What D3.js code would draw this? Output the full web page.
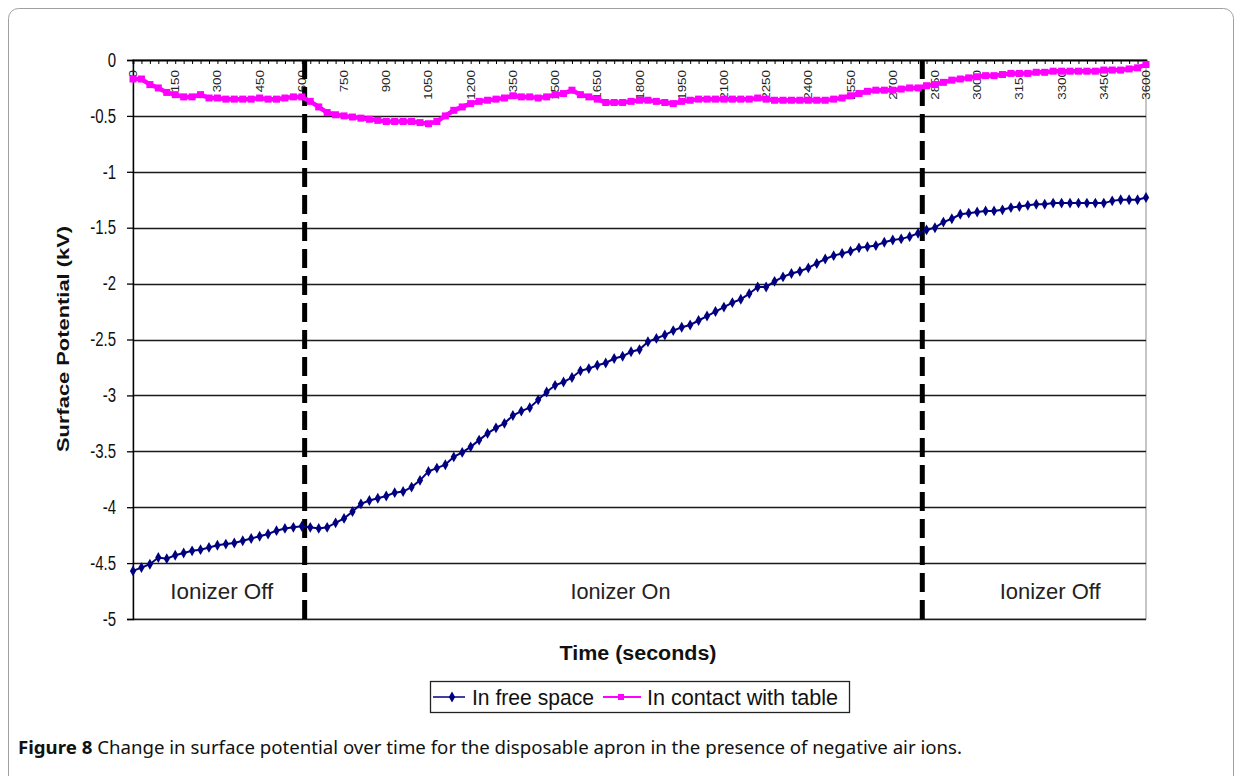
<!DOCTYPE html>
<html>
<head>
<meta charset="utf-8">
<script src="https://cdn.jsdelivr.net/npm/d3@7"></script>
<style>
  html, body { margin: 0; padding: 0; background: #fff; }
  svg { display: block; }
</style>
</head>
<body>
<svg id="chart" width="1242" height="776"></svg>
<script>
// ---------------- DATA ----------------
const times = [0,30,60,90,120,150,180,210,240,270,300,330,360,390,420,450,480,510,540,570,
  600,630,660,690,720,750,780,810,840,870,900,930,960,990,1020,1050,1080,1110,1140,1170,
  1200,1230,1260,1290,1320,1350,1380,1410,1440,1470,1500,1530,1560,1590,1620,1650,1680,1710,1740,1770,
  1800,1830,1860,1890,1920,1950,1980,2010,2040,2070,2100,2130,2160,2190,2220,2250,2280,2310,2340,2370,
  2400,2430,2460,2490,2520,2550,2580,2610,2640,2670,2700,2730,2760,2790,2820,2850,2880,2910,2940,2970,
  3000,3030,3060,3090,3120,3150,3180,3210,3240,3270,3300,3330,3360,3390,3420,3450,3480,3510,3540,3570,3600];

const freeSpace = [-4.57,-4.54,-4.51,-4.45,-4.46,-4.43,-4.41,-4.39,-4.38,-4.36,
  -4.34,-4.33,-4.32,-4.30,-4.28,-4.26,-4.24,-4.21,-4.19,-4.18,
  -4.17,-4.18,-4.19,-4.18,-4.14,-4.10,-4.04,-3.97,-3.94,-3.92,
  -3.90,-3.87,-3.86,-3.82,-3.76,-3.68,-3.65,-3.62,-3.55,-3.51,
  -3.46,-3.40,-3.34,-3.29,-3.25,-3.18,-3.14,-3.11,-3.04,-2.97,
  -2.91,-2.88,-2.84,-2.78,-2.76,-2.73,-2.71,-2.67,-2.65,-2.61,
  -2.59,-2.52,-2.49,-2.46,-2.42,-2.39,-2.37,-2.33,-2.29,-2.25,
  -2.21,-2.17,-2.14,-2.09,-2.03,-2.03,-1.98,-1.94,-1.91,-1.89,
  -1.86,-1.82,-1.78,-1.75,-1.73,-1.71,-1.68,-1.67,-1.66,-1.63,
  -1.61,-1.60,-1.58,-1.55,-1.52,-1.50,-1.45,-1.42,-1.38,-1.37,
  -1.36,-1.35,-1.35,-1.34,-1.32,-1.31,-1.30,-1.29,-1.29,-1.28,
  -1.28,-1.28,-1.28,-1.28,-1.28,-1.28,-1.26,-1.25,-1.25,-1.25,-1.23];

const contactTable = [-0.17,-0.17,-0.22,-0.25,-0.29,-0.31,-0.33,-0.33,-0.31,-0.34,
  -0.34,-0.35,-0.35,-0.35,-0.35,-0.34,-0.35,-0.35,-0.34,-0.33,
  -0.33,-0.37,-0.42,-0.47,-0.49,-0.50,-0.51,-0.52,-0.53,-0.54,
  -0.55,-0.55,-0.55,-0.55,-0.56,-0.57,-0.55,-0.50,-0.45,-0.42,
  -0.39,-0.37,-0.36,-0.35,-0.34,-0.32,-0.33,-0.33,-0.34,-0.33,
  -0.31,-0.30,-0.27,-0.31,-0.33,-0.35,-0.38,-0.38,-0.38,-0.37,
  -0.36,-0.36,-0.37,-0.38,-0.39,-0.37,-0.36,-0.35,-0.35,-0.35,
  -0.35,-0.35,-0.35,-0.35,-0.34,-0.35,-0.36,-0.36,-0.36,-0.36,
  -0.36,-0.36,-0.36,-0.35,-0.34,-0.32,-0.30,-0.28,-0.27,-0.27,
  -0.27,-0.26,-0.25,-0.25,-0.23,-0.22,-0.20,-0.18,-0.17,-0.16,
  -0.15,-0.14,-0.14,-0.13,-0.12,-0.12,-0.12,-0.11,-0.11,-0.10,
  -0.10,-0.10,-0.10,-0.10,-0.10,-0.09,-0.09,-0.09,-0.08,-0.07,-0.04];

const xLabelValues = [0,150,300,450,600,750,900,1050,1200,1350,1500,1650,1800,1950,2100,2250,2400,2550,2700,2850,3000,3150,3300,3450,3600];
const xLabelTexts = ["0","150","300","450","600","750","900","1050","1200","1350","1500","1650","1800","1950","2100","2250","2400","2550","2700","2850","3000","3150","3300","3450","3600"];
const yTickValues = [0,-0.5,-1,-1.5,-2,-2.5,-3,-3.5,-4,-4.5,-5];
const yTickTexts = ["0","-0.5","-1","-1.5","-2","-2.5","-3","-3.5","-4","-4.5","-5"];
const switchTimes = [610, 2805];
const phaseLabels = ["Ionizer Off", "Ionizer On", "Ionizer Off"];
const seriesNames = ["In free space", "In contact with table"];
const xTitle = "Time (seconds)";
const yTitle = "Surface Potential (kV)";
const captionBold = "Figure 8";
const captionRest = " Change in surface potential over time for the disposable apron in the presence of negative air ions.";

// ---------------- LAYOUT ----------------
const svg = d3.select("#chart");
const L = 133, R = 1146, T = 60, B = 619;
const x = d3.scaleLinear().domain([0, 3600]).range([L, R]);
const y = d3.scaleLinear().domain([-5, 0]).range([B, T]);
const font = "'Liberation Sans', Arial, sans-serif";
const navy = "#000080", magenta = "#FF00FF";

// outer figure frame
svg.append("rect").attr("x", 8.5).attr("y", 8.5).attr("width", 1225).attr("height", 800)
  .attr("rx", 10).attr("fill", "none").attr("stroke", "#a0a0a0").attr("stroke-width", 1);

// plot area border
svg.append("rect").attr("x", L).attr("y", T).attr("width", R - L).attr("height", B - T)
  .attr("fill", "none").attr("stroke", "#8c8c8c").attr("stroke-width", 1);

// gridlines
svg.append("g").selectAll("line").data(yTickValues.filter(v => v !== 0)).join("line")
  .attr("x1", L).attr("x2", R).attr("y1", d => Math.round(y(d)) + 0.5).attr("y2", d => Math.round(y(d)) + 0.5)
  .attr("stroke", "#1a1a1a").attr("stroke-width", 1.4);

// Y axis
const yAxis = d3.axisLeft(y).tickValues(yTickValues).tickSize(6).tickPadding(11)
  .tickFormat((d, i) => yTickTexts[i]);
const gy = svg.append("g").attr("transform", `translate(${L},0)`).call(yAxis);
gy.select(".domain").attr("stroke", "#000").attr("stroke-width", 1.4);
gy.selectAll(".tick line").attr("stroke", "#000").attr("stroke-width", 1.3);
gy.selectAll(".tick text").attr("font-family", font).attr("font-size", 15).attr("fill", "#111")
  .attr("transform", "scale(1,1.3)");

// top category axis (ticks every category)
const xTickAxis = d3.axisBottom(x).tickValues(times).tickSize(4).tickFormat("");
const gx = svg.append("g").attr("transform", `translate(0,${y(0)})`).call(xTickAxis);
gx.select(".domain").attr("stroke", "#000").attr("stroke-width", 1.8);
gx.selectAll(".tick line").attr("stroke", "#000");

// rotated labels
svg.append("g").selectAll("text").data(xLabelValues).join("text")
  .attr("transform", d => `translate(${x(d) + 4},${y(0) + 10}) rotate(-90) scale(1.22,1)`)
  .attr("text-anchor", "end")
  .attr("font-family", font).attr("font-size", 11).attr("fill", "#222")
  .text((d, i) => xLabelTexts[i]);

// switch lines (dashed)
svg.append("g").selectAll("line").data(switchTimes).join("line")
  .attr("x1", d => x(d)).attr("x2", d => x(d)).attr("y1", T).attr("y2", B + 6)
  .attr("stroke", "#000").attr("stroke-width", 5).attr("stroke-dasharray", "19,8");

// phase labels
const bounds = [0, ...switchTimes, 3600];
const phaseWidths = [103, 100, 101];
svg.append("g").selectAll("text").data(phaseLabels).join("text")
  .attr("x", (d, i) => x((bounds[i] + bounds[i + 1]) / 2) + (i === 0 ? 3 : (i === 1 ? 7 : 16)))
  .attr("y", 599).attr("text-anchor", "middle")
  .attr("font-family", font).attr("font-size", 22).attr("fill", "#222")
  .attr("textLength", (d, i) => phaseWidths[i]).attr("lengthAdjust", "spacingAndGlyphs")
  .text(d => d);

// series
const line = d3.line().x((d, i) => x(times[i])).y(d => y(d));
svg.append("path").datum(contactTable).attr("d", line).attr("fill", "none")
  .attr("stroke", magenta).attr("stroke-width", 4.5);
svg.append("g").selectAll("rect").data(contactTable).join("rect")
  .attr("x", (d, i) => x(times[i]) - 3.5).attr("y", d => y(d) - 3.5)
  .attr("width", 7).attr("height", 7).attr("fill", magenta);

svg.append("path").datum(freeSpace).attr("d", line).attr("fill", "none")
  .attr("stroke", navy).attr("stroke-width", 2);
const diamond = d3.symbol().type(d3.symbolDiamond).size(34);
svg.append("g").selectAll("path").data(freeSpace).join("path")
  .attr("transform", (d, i) => `translate(${x(times[i])},${y(d)})`)
  .attr("d", diamond).attr("fill", navy);

// axis titles
svg.append("text").attr("x", 638).attr("y", 660).attr("text-anchor", "middle")
  .attr("font-family", font).attr("font-weight", "bold").attr("font-size", 20).attr("fill", "#111")
  .attr("textLength", 157).attr("lengthAdjust", "spacingAndGlyphs")
  .text(xTitle);
svg.append("text").attr("transform", "translate(69,339) rotate(-90)").attr("text-anchor", "middle")
  .attr("font-family", font).attr("font-weight", "bold").attr("font-size", 17).attr("fill", "#111")
  .attr("textLength", 226).attr("lengthAdjust", "spacingAndGlyphs")
  .text(yTitle);

// legend
const lg = svg.append("g");
lg.append("rect").attr("x", 430.5).attr("y", 681.5).attr("width", 419).attr("height", 31)
  .attr("fill", "#fff").attr("stroke", "#222").attr("stroke-width", 1.3);
lg.append("line").attr("x1", 433).attr("x2", 465).attr("y1", 697).attr("y2", 697).attr("stroke", navy).attr("stroke-width", 1.5);
lg.append("path").attr("transform", "translate(452,697)").attr("d", diamond).attr("fill", navy);
lg.append("text").attr("x", 472).attr("y", 705).attr("font-family", font).attr("font-size", 22).attr("fill", "#111")
  .attr("textLength", 122).attr("lengthAdjust", "spacingAndGlyphs").text(seriesNames[0]);
lg.append("line").attr("x1", 603).attr("x2", 641).attr("y1", 697).attr("y2", 697).attr("stroke", magenta).attr("stroke-width", 2);
lg.append("rect").attr("x", 618).attr("y", 694).attr("width", 6).attr("height", 6).attr("fill", magenta);
lg.append("text").attr("x", 647).attr("y", 705).attr("font-family", font).attr("font-size", 22).attr("fill", "#111")
  .attr("textLength", 191).attr("lengthAdjust", "spacingAndGlyphs").text(seriesNames[1]);

// caption
const cap = svg.append("text").attr("x", 18).attr("y", 754)
  .attr("font-family", "'Noto Sans', 'Open Sans', sans-serif").attr("font-size", 17.5).attr("fill", "#111")
  .attr("textLength", 944).attr("lengthAdjust", "spacingAndGlyphs");
cap.append("tspan").attr("font-weight", "bold").text(captionBold);
cap.append("tspan").text(captionRest);
</script>
</body>
</html>
